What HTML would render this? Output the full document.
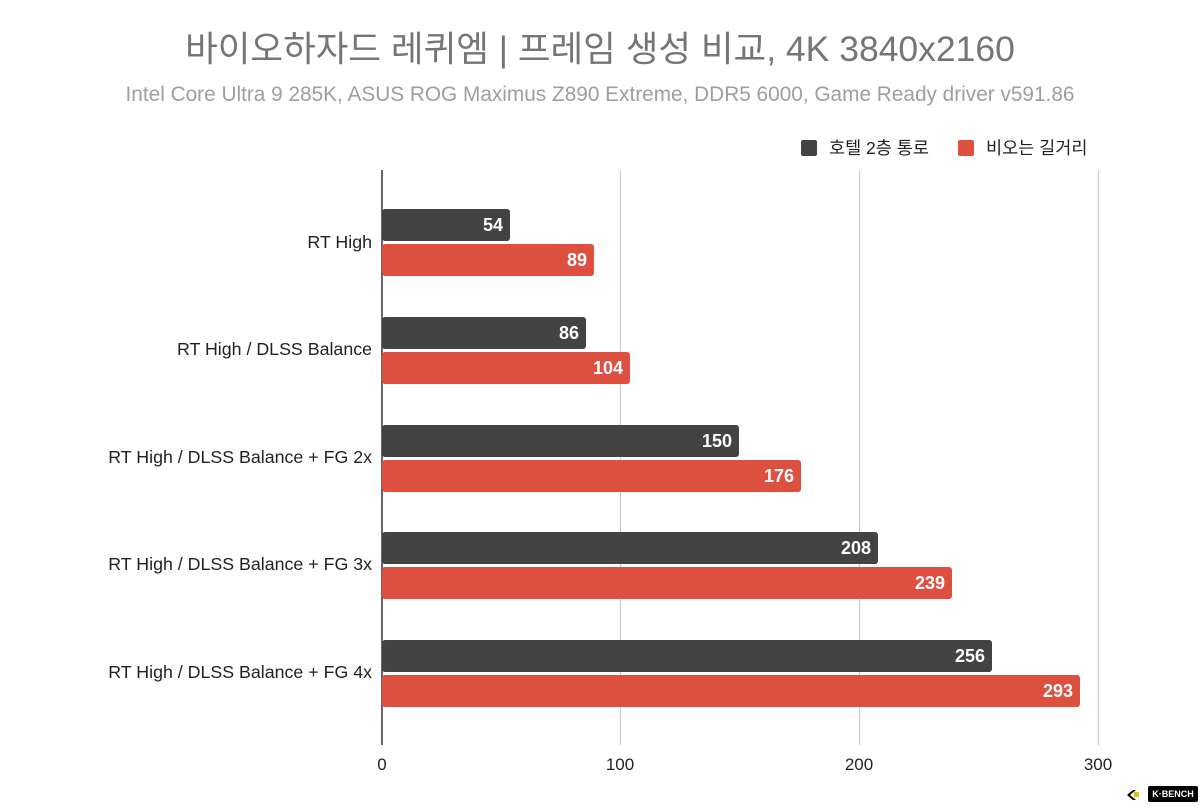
<!DOCTYPE html>
<html><head><meta charset="utf-8"><style>
body{margin:0;background:#fff}
text{font-family:"Liberation Sans","Noto Sans CJK KR",sans-serif}
</style></head><body>
<svg width="1200" height="804" xmlns="http://www.w3.org/2000/svg">
<rect width="1200" height="804" fill="#fff"/>
<text x="600" y="61" font-size="35.5" fill="#757575" text-anchor="middle">바이오하자드 레퀴엠 | 프레임 생성 비교, 4K 3840x2160</text>
<text x="600" y="101" font-size="20.8" fill="#9e9e9e" text-anchor="middle">Intel Core Ultra 9 285K, ASUS ROG Maximus Z890 Extreme, DDR5 6000, Game Ready driver v591.86</text>
<rect x="801" y="140" width="16" height="16" rx="2" fill="#434343"/>
<text x="829" y="154" font-size="17.5" fill="#222">호텔 2층 통로</text>
<rect x="958" y="140" width="16" height="16" rx="2" fill="#dd4f3e"/>
<text x="986" y="154" font-size="17.5" fill="#222">비오는 길거리</text>
<g stroke="#ccc" stroke-width="1.2">
<line x1="620.5" y1="170" x2="620.5" y2="745"/>
<line x1="859.5" y1="170" x2="859.5" y2="745"/>
<line x1="1098.5" y1="170" x2="1098.5" y2="745"/>
</g>
<line x1="382" y1="170" x2="382" y2="745" stroke="#333" stroke-width="1.5"/>
<g font-size="17" fill="#222" text-anchor="middle">
<text x="382" y="770">0</text><text x="620" y="770">100</text><text x="859" y="770">200</text><text x="1098" y="770">300</text>
</g>
<g font-size="17.8" fill="#222" text-anchor="end">
<text x="372" y="248">RT High</text>
<text x="372" y="355">RT High / DLSS Balance</text>
<text x="372" y="463">RT High / DLSS Balance + FG 2x</text>
<text x="372" y="570">RT High / DLSS Balance + FG 3x</text>
<text x="372" y="678">RT High / DLSS Balance + FG 4x</text>
</g>
<g>
<rect x="382" y="209" width="128" height="32" rx="3" fill="#434343"/>
<rect x="382" y="244" width="212" height="32" rx="3" fill="#dd4f3e"/>
<rect x="382" y="317" width="204" height="32" rx="3" fill="#434343"/>
<rect x="382" y="352" width="248" height="32" rx="3" fill="#dd4f3e"/>
<rect x="382" y="425" width="357" height="32" rx="3" fill="#434343"/>
<rect x="382" y="460" width="419" height="32" rx="3" fill="#dd4f3e"/>
<rect x="382" y="532" width="496" height="32" rx="3" fill="#434343"/>
<rect x="382" y="567" width="570" height="32" rx="3" fill="#dd4f3e"/>
<rect x="382" y="640" width="610" height="32" rx="3" fill="#434343"/>
<rect x="382" y="675" width="698" height="32" rx="3" fill="#dd4f3e"/>
</g>
<g font-size="18" font-weight="bold" fill="#fff" text-anchor="end">
<text x="503" y="231">54</text><text x="587" y="266">89</text>
<text x="579" y="339">86</text><text x="623" y="374">104</text>
<text x="732" y="447">150</text><text x="794" y="482">176</text>
<text x="871" y="554">208</text><text x="945" y="589">239</text>
<text x="985" y="662">256</text><text x="1073" y="697">293</text>
</g>
<polygon points="1133,790 1127,795 1133,800 1136,800 1130,795 1136,790" fill="#000"/>
<rect x="1134" y="792" width="5" height="5" fill="#e6c200"/>
<rect x="1148" y="786" width="50" height="16" rx="2" fill="#000"/>
<text x="1173" y="797" font-size="9" font-weight="bold" fill="#fff" text-anchor="middle">K·BENCH</text>
</svg>
</body></html>
